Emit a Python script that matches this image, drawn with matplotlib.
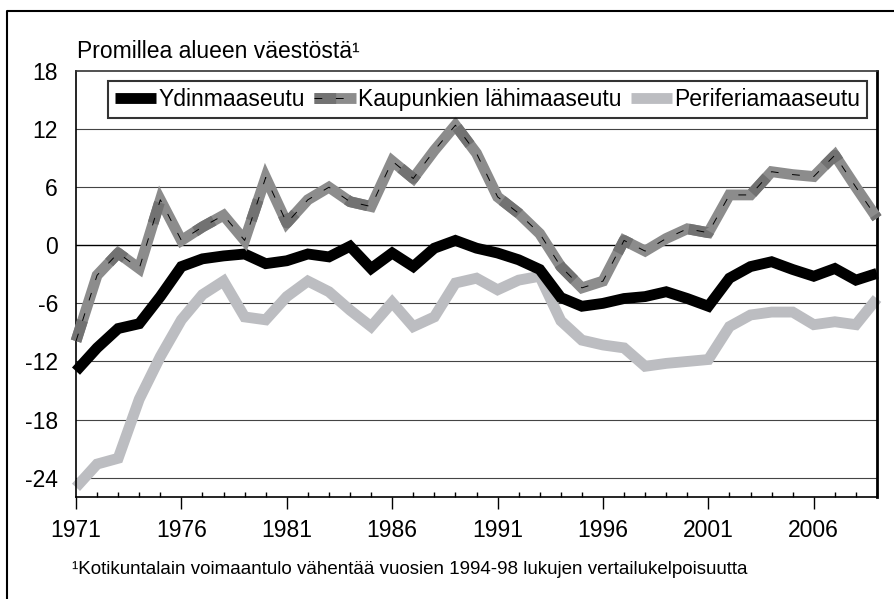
import numpy as np
import matplotlib.pyplot as plt
from matplotlib.lines import Line2D
from matplotlib.ticker import MultipleLocator, FuncFormatter

plt.rcParams['font.family'] = ['Liberation Sans', 'DejaVu Sans']

years = list(range(1971, 2010))

ydin = [-13.0, -10.6, -8.6, -8.1, -5.3, -2.2, -1.4, -1.1, -0.9, -1.9,
        -1.6, -0.9, -1.2, -0.1, -2.4, -0.8, -2.2, -0.3, 0.5, -0.3,
        -0.8, -1.5, -2.5, -5.4, -6.3, -6.0, -5.5, -5.3, -4.8, -5.5,
        -6.3, -3.4, -2.2, -1.7, -2.5, -3.2, -2.4, -3.6, -2.9]
kaup = [-9.9, -3.1, -0.8, -2.4, 4.7, 0.5, 1.9, 3.1, 0.5, 7.0,
        2.3, 4.7, 6.0, 4.5, 4.0, 8.7, 6.9, 9.8, 12.4, 9.5,
        5.0, 3.3, 1.2, -2.2, -4.4, -3.7, 0.5, -0.6, 0.7, 1.7,
        1.3, 5.2, 5.2, 7.6, 7.3, 7.1, 9.3, 6.0, 2.8]
peri = [-25.0, -22.6, -22.0, -15.9, -11.5, -7.7, -5.1, -3.7, -7.4, -7.7,
        -5.3, -3.7, -4.8, -6.7, -8.4, -5.9, -8.4, -7.4, -3.9, -3.4,
        -4.6, -3.6, -3.2, -7.8, -9.8, -10.3, -10.6, -12.5, -12.2, -12.0,
        -11.8, -8.4, -7.2, -6.9, -6.9, -8.2, -7.9, -8.2, -5.5]

labels = ['Ydinmaaseutu', 'Kaupunkien lähimaaseutu', 'Periferiamaaseutu']

fig = plt.figure(figsize=(8.94, 5.99), dpi=100)
ax = fig.add_axes([76 / 894, 1 - 497 / 599, 801 / 894, 426 / 599])

lw = 7.8
style = dict(solid_joinstyle='miter', solid_capstyle='butt', clip_on=False)

# gridlines
for y in range(-24, 18, 6):
    ax.axhline(y, color='black' if y == 0 else '#444444', lw=1.0 if y == 0 else 0.8, zorder=1)

lp, = ax.plot(years, peri, color='#bcbdc1', lw=lw, zorder=2, **style)
ly, = ax.plot(years, ydin, color='black', lw=lw, zorder=3, **style)
lk, = ax.plot(years, kaup, color='#8c8c8c', lw=lw, zorder=4, **style)
lk2, = ax.plot(years, kaup, color='#727272', lw=lw, zorder=5,
               dashes=(2, 6), dash_capstyle='butt', clip_on=False)
lk3, = ax.plot(years, kaup, color='black', lw=0.7, zorder=6,
               dashes=(8, 14), clip_on=False)

ax.set_xlim(1971, 2009)
ax.set_ylim(-26, 18)
ax.set_yticks(range(-24, 19, 6))
ax.yaxis.set_major_formatter(FuncFormatter(lambda v, p: '%d' % v))
ax.set_xticks(range(1971, 2010, 5))
ax.xaxis.set_minor_locator(MultipleLocator(1))
ax.tick_params(axis='y', length=0, pad=13, labelsize=16.5)
ax.tick_params(axis='x', which='major', direction='out', length=8.5, width=1,
               pad=7, labelsize=16.5)
ax.tick_params(axis='x', which='minor', direction='in', length=3.6, width=1)

for s in ['left', 'bottom', 'top']:
    ax.spines[s].set_linewidth(1.2)
ax.spines['right'].set_linewidth(2)
ax.spines['top'].set_color('#333333')

leg = ax.legend([ly, (lk, lk2, lk3), lp], labels, loc='upper center',
                bbox_to_anchor=(0.514, 0.977), ncol=3, fontsize=16.5,
                frameon=True, fancybox=False, handlelength=1.8,
                handletextpad=0.1, columnspacing=0.4, borderpad=0.3,
                borderaxespad=0)
leg.get_frame().set_edgecolor('black')
leg.get_frame().set_linewidth(1.5)

fig.text(77 / 894, 1 - 52 / 599, 'Promillea alueen väestöstä¹', fontsize=16.5,
         va='center', ha='left')
fig.text(72 / 894, 1 - 570 / 599,
         '¹Kotikuntalain voimaantulo vähentää vuosien 1994-98 lukujen vertailukelpoisuutta',
         fontsize=13.5, va='center', ha='left')

# outer frame (left and top edges)
fig.add_artist(Line2D([7 / 894, 7 / 894, 1], [0, 1 - 11 / 599, 1 - 11 / 599],
                      color='black', lw=1.5, transform=fig.transFigure))

fig.savefig('out.png', dpi=100)
